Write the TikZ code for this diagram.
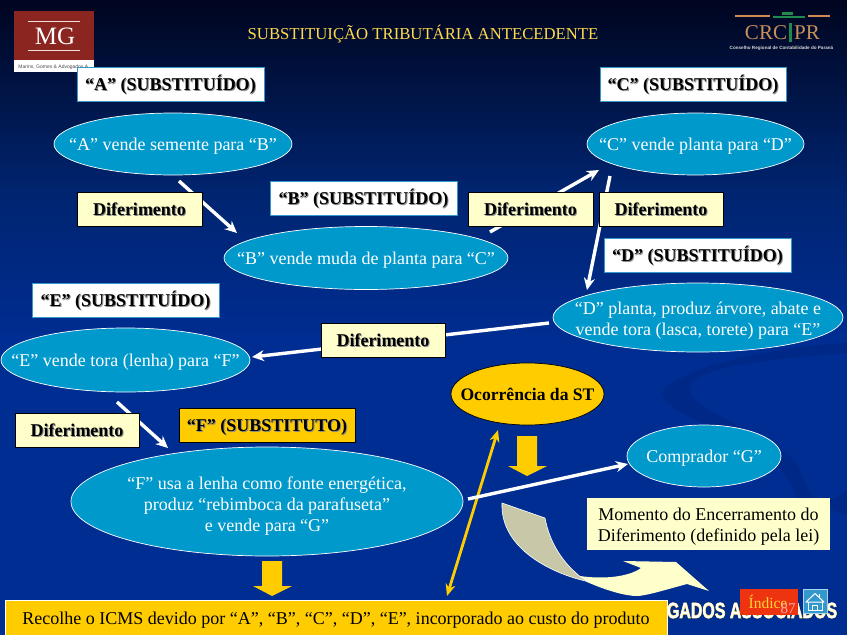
\documentclass[tikz,border=0pt]{standalone}
\usepackage{fontspec}
\setmainfont{Liberation Serif}
\newfontfamily\sansf{Liberation Sans}
\newfontfamily\outlf[BoldFeatures={FakeBold=3}]{Liberation Sans}
\usetikzlibrary{shapes.geometric,arrows.meta}
\definecolor{bgtop}{HTML}{00051F}
\definecolor{bgmid}{HTML}{00246F}
\definecolor{bgbot}{HTML}{002D92}
\definecolor{swoosh}{HTML}{002987}
\definecolor{ell}{HTML}{0099CC}
\definecolor{cream}{HTML}{FFFFCC}
\definecolor{gold}{HTML}{FFCC00}
\definecolor{boxedge}{HTML}{3399CC}
\definecolor{tanbody}{HTML}{C8C8A8}
\definecolor{logored}{HTML}{8B2520}
\definecolor{crctan}{HTML}{C8905A}
\definecolor{crcline}{HTML}{D08A50}
\definecolor{crcgreen}{HTML}{1F8A4C}
\definecolor{idxred}{HTML}{EE3311}
\newcommand{\shtext}[1]{\leavevmode\rlap{\raisebox{-1pt}{\hspace{1pt}\textcolor{black!45}{#1}}}#1}
\newcommand{\dnstrut}{\rule[-4pt]{0pt}{21.5pt}}
\tikzset{
 x=1pt,y=-1pt,
 base/.style={inner sep=0pt,outer sep=0pt,align=center,font=\fontsize{18}{21}\selectfont},
 txt/.style={base,execute at begin node={\dnstrut}},
 lab/.style={txt,rectangle,fill=white,draw=boxedge,line width=0.8pt,text=black},
 dif/.style={txt,rectangle,fill=cream,draw=black,line width=0.8pt,text=black},
 oval/.style={txt,ellipse,inner xsep=-60pt,inner ysep=-12pt,fill=ell,draw=white,line width=0.7pt,text=white},
 goldbox/.style={txt,rectangle,fill=gold,draw=black,line width=0.8pt,text=black},
 flow/.style={draw=white,line width=3.4pt,-{Stealth[length=12pt,width=11pt]}},
 dbl/.style={draw=gold,line width=2.8pt,{Stealth[length=12pt,width=10pt]}-{Stealth[length=12pt,width=10pt]}},
 block/.style={fill=gold,draw=none},
}
\newcommand{\bx}[5]{\node[#1,minimum width=#4-#2,minimum height=#5-#3] at ({(#2+#4)/2},{(#3+#5)/2})}
\begin{document}
\begin{tikzpicture}
\useasboundingbox (0,0) rectangle (847,635);
\shade[top color=bgtop,bottom color=bgmid] (0,0) rectangle (847,190);
\fill[bgmid] (0,189) rectangle (847,190);
\shade[top color=bgmid,bottom color=bgbot] (0,190) rectangle (847,340);
\fill[bgbot] (0,340) rectangle (847,635);
% faint swoosh
\fill[swoosh] (847,343) .. controls (790,345) and (680,365) .. (662,393) .. controls (665,420) and (780,440) .. (797,497) .. controls (810,505) and (830,505) .. (847,490) -- (847,515) .. controls (830,510) and (810,505) .. (800,470) .. controls (790,440) and (680,410) .. (690,385) .. controls (700,365) and (780,358) .. (847,353) -- cycle;

% MG logo
\fill[white] (14,60) rectangle (94,72);
\fill[logored] (14,11) rectangle (94,60);
\draw[white!85!logored,line width=0.6pt] (28,21) -- (80,21) (28,50) -- (80,50);
\node[base,text=white,font=\fontsize{25}{25}\selectfont] (mg) at (55,36) {MG};
\node[base,text=black!70,font=\sansf\fontsize{5}{6}\selectfont] (mgs) at (54,67.5) {Marins, Gomes \& Advogados A.};

% CRC logo
\draw[line width=1.6pt,color=crcline] (735,16) -- (770,16) (808,16) -- (830,16);
\draw[line width=1.6pt,color=crcgreen] (773,17) -- (805,17);
\fill[crcgreen] (782,12) rectangle (793,15);
\fill[crcgreen] (789,23) rectangle (792,42);
\node[base,text=crctan,font=\fontsize{21}{21}\selectfont] (crc) at (766,33) {CRC};
\node[base,text=crctan,font=\fontsize{21}{21}\selectfont] (pr) at (807,33) {PR};
\node[base,text=white!85!black,font=\sansf\bfseries\fontsize{4.6}{5}\selectfont] (crcs) at (781.5,48) {Conselho Regional de Contabilidade do Paraná};

% title
\node[base,text=gold!70!white,font=\fontsize{16.7}{18}\selectfont] (title) at (423,34.5) {SUBSTITUIÇÃO TRIBUTÁRIA ANTECEDENTE};

% anchors for arrows
\coordinate (a1) at (179,181); \coordinate (a2) at (237,233);
\coordinate (b1) at (490,232); \coordinate (b2) at (599,170);
\coordinate (c1) at (610,176); \coordinate (c2) at (587,290);
\coordinate (d1) at (549,323); \coordinate (d2) at (252,357);
\coordinate (e1) at (117,402); \coordinate (e2) at (168,448);
\coordinate (f1) at (468,499); \coordinate (f2) at (628,464);
\coordinate (g1) at (498,430); \coordinate (g2) at (447,596);

% ellipses
\node[oval,minimum width=238,minimum height=62] (ea) at (173,144) {“A” vende semente para “B”};
\node[oval,minimum width=284,minimum height=63] (eb) at (366,258) {“B” vende muda de planta para “C”};
\node[oval,minimum width=217,minimum height=62] (ec) at (695.5,144) {“C” vende planta para “D”};
\node[oval,minimum width=290,minimum height=69] (ed) at (698,317.5) {\rule{0pt}{18pt}“D” planta, produz árvore, abate e\\vende tora (lasca, torete) para “E”};
\node[oval,minimum width=249,minimum height=64] (ee) at (125.5,360) {“E” vende tora (lenha) para “F”};
\node[oval,minimum width=392,minimum height=109] (ef) at (267,501.5) {\rule{0pt}{22pt}“F” usa a lenha como fonte energética,\\produz “rebimboca da parafuseta”\\e vende para “G”};
\node[oval,minimum width=154,minimum height=62] (eg) at (704,456) {Comprador “G”};
\node[oval,fill=gold,draw=black,text=black,minimum width=153,minimum height=62,font=\bfseries\fontsize{17.6}{20}\selectfont] (est) at (527.5,394) {Ocorrência da ST};

% arrows
\draw[flow] (a1) -- (a2);
\draw[flow] (b1) -- (b2);
\draw[flow] (c1) -- (c2);
\draw[flow] (d1) -- (d2);
\draw[flow] (e1) -- (e2);
\draw[dbl] (g1) -- (g2);
\draw[flow] (f1) -- (f2);

% block arrows
\path[block] (517,436) -- (537,436) -- (537,466) -- (547,466) -- (527,476) -- (508,466) -- (517,466) -- cycle;
\path[block] (262,561) -- (282,561) -- (282,586) -- (292,586) -- (272,596) -- (253,586) -- (262,586) -- cycle;

% curved arrow
\fill[cream] (580,576) .. controls (600,579) and (627,578) .. (641,568) -- (623,561) -- (676,562) -- (709,591) -- (687,584) .. controls (665,590) and (645,596) .. (637,596) .. controls (625,596) and (605,590) .. (587,582) -- cycle;
\path[fill=tanbody,draw=white,line width=0.6pt] (502,503) -- (545,518) .. controls (550,545) and (565,565) .. (582,578) -- (590,582) .. controls (555,575) and (500,550) .. (502,503) -- cycle;

% boxes
\bx{lab}{77}{67}{264}{101} (ba) {\bfseries\shtext{“A” (SUBSTITUÍDO)}};
\bx{lab}{600}{67}{786}{101} (bc) {\bfseries\shtext{“C” (SUBSTITUÍDO)}};
\bx{lab}{270}{181}{457}{215} (bb) {\bfseries\shtext{“B” (SUBSTITUÍDO)}};
\bx{lab}{604}{238}{791}{272} (bd) {\bfseries\shtext{“D” (SUBSTITUÍDO)}};
\bx{lab}{32}{283}{219}{317} (be) {\bfseries\shtext{“E” (SUBSTITUÍDO)}};
\bx{goldbox}{179}{408}{355}{442} (bf) {\bfseries\shtext{“F” (SUBSTITUTO)}};
\bx{dif}{77}{192}{202}{226} (d1box) {\bfseries\shtext{Diferimento}};
\bx{dif}{468}{192}{593}{226} (d2box) {\bfseries\shtext{Diferimento}};
\bx{dif}{599}{192}{723}{226} (d3box) {\bfseries\shtext{Diferimento}};
\bx{dif}{321}{323}{445}{357} (d4box) {\bfseries\shtext{Diferimento}};
\bx{dif}{15}{413}{139}{447} (d5box) {\bfseries\shtext{Diferimento}};

% footer word behind
\node[base,anchor=west,font=\fontsize{22}{22}\selectfont] (assoc) at (667,610.5) {\scalebox{0.725}[1]{\outlf\bfseries\rlap{\textcolor{gold!75!white}{GADOS ASSOCIADOS}}\sansf\bfseries\textcolor{white}{GADOS ASSOCIADOS}}};

% bottom box
\bx{goldbox,draw=white}{5}{600}{667}{636} (rec) {Recolhe o ICMS devido por “A”, “B”, “C”, “D”, “E”, incorporado ao custo do produto};
\bx{txt,rectangle,fill=cream,text=black}{587}{498}{830}{550} (mom) {\rule{0pt}{18pt}Momento do Encerramento do\\Diferimento (definido pela lei)};

% index
\bx{base,rectangle,fill=idxred,draw=idxred,text=gold!80!white,font=\fontsize{15.5}{15}\selectfont}{740}{589}{797}{614} (idx) {\hspace{-1pt}Índice};
\node[base,text=red!35!white,font=\fontsize{15}{15}\selectfont] (pg) at (788,608.5) {87};
\bx{base,rectangle,fill=boxedge,draw=white!60!boxedge}{803}{589}{827}{613} (home) {};
\draw[white,line width=1pt,line join=round] (806,602) -- (815,593.5) -- (824,602) -- cycle;
\draw[white,line width=1pt] (808,602) -- (808,610) -- (822,610) -- (822,602) (812.5,610) -- (812.5,605) -- (817.5,605) -- (817.5,610) (819.5,596.5) -- (819.5,594);
\end{tikzpicture}
\end{document}
